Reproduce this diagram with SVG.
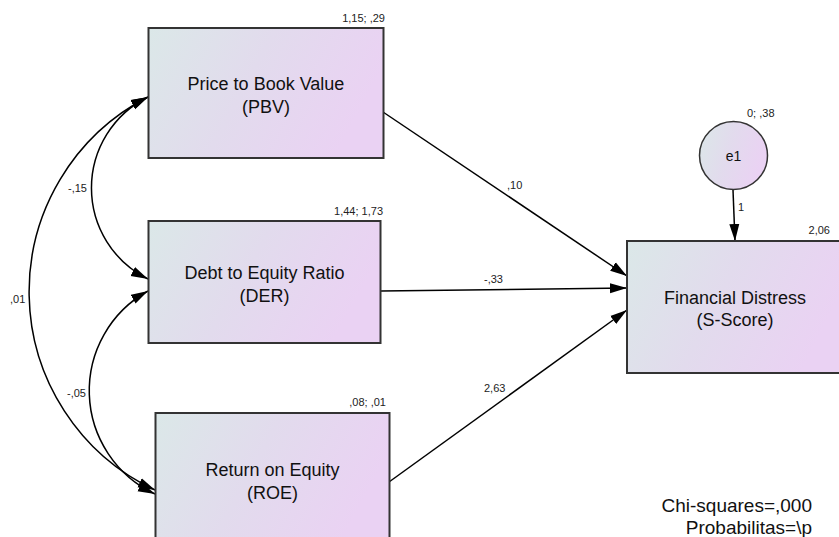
<svg xmlns="http://www.w3.org/2000/svg" width="839" height="537" viewBox="0 0 839 537">
<defs>
<linearGradient id="g" x1="0" y1="0" x2="1" y2="0.3">
<stop offset="0" stop-color="#dbe8e8"/>
<stop offset="0.5" stop-color="#e2dbed"/>
<stop offset="1" stop-color="#ead2f3"/>
</linearGradient>
<marker id="ah" markerUnits="userSpaceOnUse" markerWidth="18" markerHeight="12" refX="17" refY="5" orient="auto-start-reverse" viewBox="0 0 18 10">
<path d="M0,0 L17,5 L0,10 z" fill="#000"/>
</marker>
<style>
.box{fill:url(#g);stroke:#333;stroke-width:2}
.lab{font-family:"Liberation Sans",Arial,sans-serif;font-size:18px;fill:#111;text-anchor:middle}
.sm{font-family:"Liberation Sans",Arial,sans-serif;font-size:11px;fill:#222}
.e{stroke:#000;stroke-width:1.5;fill:none;marker-end:url(#ah)}
.c{stroke:#000;stroke-width:1.5;fill:none;marker-end:url(#ah);marker-start:url(#ah)}
</style>
</defs>
<rect width="839" height="537" fill="#fff"/>
<g id="connectors">
<line class="e" x1="383" y1="112" x2="627" y2="276"/>
<line class="e" x1="381" y1="291" x2="627" y2="288"/>
<line class="e" x1="389" y1="482" x2="627" y2="310"/>
<line class="e" x1="733" y1="190" x2="735" y2="241"/>
<path class="c" d="M148,97 A101.5,101.5 0 0 0 148,279"/>
<path class="c" d="M148,97 A219,219 0 0 0 155,490"/>
<path class="c" d="M148,291 A114,114 0 0 0 155,494"/>
<text class="sm" x="507" y="189">,10</text>
<text class="sm" x="484" y="283">-,33</text>
<text class="sm" x="484" y="392">2,63</text>
<text class="sm" x="738" y="211">1</text>
<text class="sm" x="68" y="192">-,15</text>
<text class="sm" x="10" y="303">,01</text>
<text class="sm" x="67" y="397">-,05</text>
</g>
<g id="pbv">
<rect class="box" x="148.5" y="28" width="235" height="130"/>
<text class="lab" x="266" y="89.5">Price to Book Value</text>
<text class="lab" x="266" y="112.5">(PBV)</text>
<text class="sm" x="385" y="22" text-anchor="end">1,15; ,29</text>
</g>
<g id="der">
<rect class="box" x="148.5" y="221" width="232" height="122"/>
<text class="lab" x="264.5" y="278.5">Debt to Equity Ratio</text>
<text class="lab" x="264.5" y="301.5">(DER)</text>
<text class="sm" x="383" y="215" text-anchor="end">1,44; 1,73</text>
</g>
<g id="roe">
<rect class="box" x="155.5" y="413" width="234" height="130"/>
<text class="lab" x="272.5" y="476">Return on Equity</text>
<text class="lab" x="272.5" y="498.5">(ROE)</text>
<text class="sm" x="386" y="406" text-anchor="end">,08; ,01</text>
</g>
<g id="fd">
<rect class="box" x="627" y="241" width="220" height="132"/>
<text class="lab" x="735" y="303.5">Financial Distress</text>
<text class="lab" x="735" y="325.5">(S-Score)</text>
<text class="sm" x="830" y="234" text-anchor="end">2,06</text>
</g>
<g id="e1">
<circle cx="733.5" cy="155.5" r="34" fill="url(#g)" stroke="#333" stroke-width="1.5"/>
<text class="lab" x="733.5" y="160.5" style="font-size:14px">e1</text>
<text class="sm" x="747" y="117">0; ,38</text>
</g>
<g id="fit">
<text x="812" y="511.5" text-anchor="end" style="font-family:'Liberation Sans',Arial,sans-serif;font-size:19px;fill:#111">Chi-squares=,000</text>
<text x="812" y="533.5" text-anchor="end" style="font-family:'Liberation Sans',Arial,sans-serif;font-size:19px;fill:#111">Probabilitas=\p</text>
</g>
</svg>
